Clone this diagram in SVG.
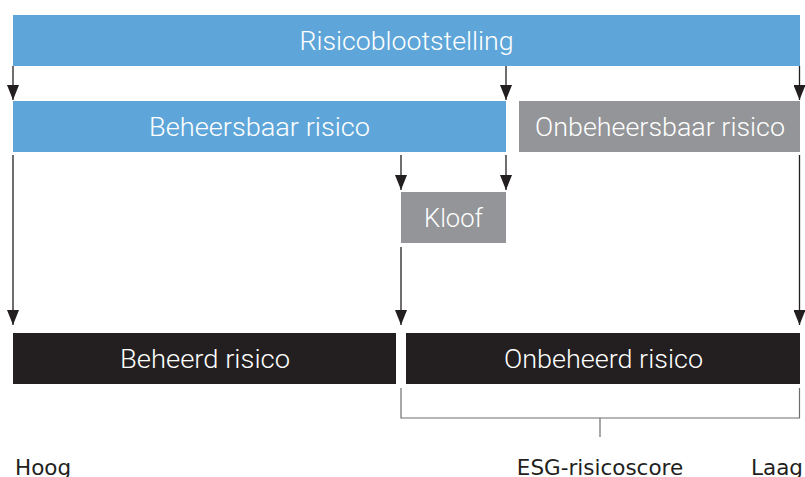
<svg xmlns="http://www.w3.org/2000/svg" width="805" height="477" viewBox="0 0 805 477">
<defs>
<style>
.blue{fill:#5ea6d9}
.grey{fill:#939598}
.black{fill:#231f20}
.lbl{font-family:Roboto,"Liberation Sans",sans-serif;font-weight:300;font-size:26px;fill:#ffffff;text-anchor:middle}
.axis{font-family:"DejaVu Sans",Verdana,sans-serif;font-size:21.5px;fill:#231f20}
.conn{stroke:#231f20;stroke-width:1.3;fill:none}
.brk{stroke:#6d6e71;stroke-width:1.2;fill:none}
</style>
<marker id="ad" viewBox="0 0 15 12" refX="15" refY="6" markerWidth="15" markerHeight="12" markerUnits="userSpaceOnUse" orient="auto">
<path d="M0,0 L15,6 L0,12 Z" fill="#231f20"/>
</marker>
</defs>
<rect width="805" height="477" fill="#ffffff"/>
<g id="risicoblootstelling">
<rect class="blue" x="13" y="15" width="787" height="51"/>
<text class="lbl" x="406.5" y="50" textLength="214" lengthAdjust="spacingAndGlyphs">Risicoblootstelling</text>
</g>
<g id="beheersbaar">
<rect class="blue" x="13" y="101" width="493" height="51"/>
<text class="lbl" x="259.5" y="136" textLength="221" lengthAdjust="spacingAndGlyphs">Beheersbaar risico</text>
</g>
<g id="onbeheersbaar">
<rect class="grey" x="519" y="101" width="281" height="51"/>
<text class="lbl" x="660" y="136" textLength="250" lengthAdjust="spacingAndGlyphs">Onbeheersbaar risico</text>
</g>
<g id="kloof">
<rect class="grey" x="401" y="192" width="105" height="51"/>
<text class="lbl" x="453.5" y="227" textLength="59" lengthAdjust="spacingAndGlyphs">Kloof</text>
</g>
<g id="beheerd">
<rect class="black" x="13" y="333" width="383" height="51"/>
<text class="lbl" x="205" y="368" textLength="170" lengthAdjust="spacingAndGlyphs">Beheerd risico</text>
</g>
<g id="onbeheerd">
<rect class="black" x="406" y="333" width="394" height="51"/>
<text class="lbl" x="603.5" y="368" textLength="199" lengthAdjust="spacingAndGlyphs">Onbeheerd risico</text>
</g>
<g id="connectors">
<line class="conn" x1="13" y1="66" x2="13" y2="100" marker-end="url(#ad)"/>
<line class="conn" x1="506" y1="66" x2="506" y2="100" marker-end="url(#ad)"/>
<line class="conn" x1="799.5" y1="66" x2="799.5" y2="100" marker-end="url(#ad)"/>
<line class="conn" x1="401" y1="155" x2="401" y2="190" marker-end="url(#ad)"/>
<line class="conn" x1="506" y1="155" x2="506" y2="190" marker-end="url(#ad)"/>
<line class="conn" x1="13" y1="155" x2="13" y2="325" marker-end="url(#ad)"/>
<line class="conn" x1="401" y1="247" x2="401" y2="325" marker-end="url(#ad)"/>
<line class="conn" x1="799.5" y1="155" x2="799.5" y2="325" marker-end="url(#ad)"/>
</g>
<g id="bracket">
<path class="brk" d="M401,388 V418 H799.5 V388 M600,418 V437"/>
</g>
<g id="axis-labels">
<text class="axis" x="15" y="475">Hoog</text>
<text class="axis" x="600" y="475" text-anchor="middle">ESG-risicoscore</text>
<text class="axis" x="803" y="475" text-anchor="end">Laag</text>
</g>
</svg>
